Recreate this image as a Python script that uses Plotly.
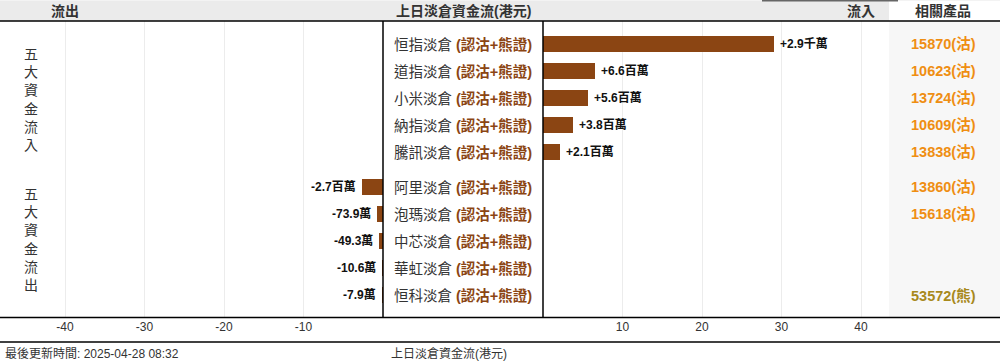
import plotly.graph_objects as go

W, H = 1000, 362

# ---------------- data ----------------
in_names = ["恒指淡倉", "道指淡倉", "小米淡倉", "納指淡倉", "騰訊淡倉"]
in_values = [29.0, 6.6, 5.6, 3.8, 2.1]            # 百萬港元
in_labels = ["+2.9千萬", "+6.6百萬", "+5.6百萬", "+3.8百萬", "+2.1百萬"]
in_products = ["15870(沽)", "10623(沽)", "13724(沽)", "10609(沽)", "13838(沽)"]

out_names = ["阿里淡倉", "泡瑪淡倉", "中芯淡倉", "華虹淡倉", "恒科淡倉"]
out_values = [-2.7, -0.739, -0.493, -0.106, -0.079]  # 百萬港元
out_labels = ["-2.7百萬", "-73.9萬", "-49.3萬", "-10.6萬", "-7.9萬"]
out_products = ["13860(沽)", "15618(沽)", "", "", "53572(熊)"]

left_ticks = [-40, -30, -20, -10]
right_ticks = [10, 20, 30, 40]
suffix = "(認沽+熊證)"
update_time = "最後更新時間: 2025-04-28 08:32"

# ---------------- styling ----------------
FONT = "Liberation Sans, Noto Sans CJK TC, sans-serif"
TXT = "#333333"
BAR = "#8B4513"
ORANGE = "#EF8E12"
OLIVE = "#A8891C"

def px(x):
    return x / W

def py(y):
    return 1 - y / H

GAP = 8 / 27
in_pos = [i for i in range(len(in_names))]
out_pos = [len(in_names) + GAP + i for i in range(len(out_names))]
PAD = 23 / 27

fig = go.Figure()
fig.add_trace(go.Bar(x=out_values, y=out_pos, orientation="h", xaxis="x", yaxis="y",
                     marker=dict(color=BAR, line=dict(width=0)), width=0.59,
                     hoverinfo="skip", showlegend=False))
fig.add_trace(go.Bar(x=in_values, y=in_pos, orientation="h", xaxis="x2", yaxis="y",
                     marker=dict(color=BAR, line=dict(width=0)), width=0.59,
                     hoverinfo="skip", showlegend=False))

ann = []
shapes = []

# header backgrounds
shapes.append(dict(type="rect", xref="paper", yref="paper", x0=0, x1=px(889), y0=py(21), y1=py(1),
                   fillcolor="#ebebeb", line=dict(width=0), layer="below"))
shapes.append(dict(type="rect", xref="paper", yref="paper", x0=0, x1=1, y0=py(1), y1=py(0),
                   fillcolor="#f3f3f3", line=dict(width=0), layer="below"))
shapes.append(dict(type="rect", xref="paper", yref="paper", x0=px(762), x1=px(898), y0=py(1.5), y1=py(0),
                   fillcolor="#666666", line=dict(width=0), layer="below"))
# product column background
shapes.append(dict(type="rect", xref="paper", yref="paper", x0=px(889), x1=1, y0=py(318), y1=py(21),
                   fillcolor="#f7f7f7", line=dict(width=0), layer="below"))
# horizontal black lines
for yy in (21, 317.5, 342):
    shapes.append(dict(type="line", xref="paper", yref="paper", x0=0, x1=1, y0=py(yy), y1=py(yy),
                       line=dict(color="#000000", width=1.5)))
# center panel borders
for xx in (383, 543):
    shapes.append(dict(type="line", xref="paper", yref="paper", x0=px(xx), x1=px(xx), y0=py(318), y1=py(21),
                       line=dict(color="#000000", width=1.5)))

# header texts
for text, xc in (("流出", 65), ("上日淡倉資金流(港元)", 463), ("流入", 861), ("相關產品", 943)):
    ann.append(dict(text=f"<b>{text}</b>", xref="paper", yref="paper", x=px(xc), y=py(11),
                    xanchor="center", yanchor="middle", showarrow=False,
                    font=dict(family=FONT, size=14, color=TXT)))

# vertical group labels
ann.append(dict(text="<br>".join("五大資金流入"), xref="paper", yref="paper", x=px(31), y=py(99),
                xanchor="center", yanchor="middle", showarrow=False,
                font=dict(family=FONT, size=14, color=TXT)))
ann.append(dict(text="<br>".join("五大資金流出"), xref="paper", yref="paper", x=px(31), y=py(239),
                xanchor="center", yanchor="middle", showarrow=False,
                font=dict(family=FONT, size=14, color=TXT)))

names = in_names + out_names
prods = in_products + out_products
poss = in_pos + out_pos
for name, prod, p in zip(names, prods, poss):
    ann.append(dict(text=f"{name} <b><span style='color:{BAR}'>{suffix}</span></b>",
                    xref="paper", yref="y", x=px(463), y=p, xanchor="center", yanchor="middle",
                    showarrow=False, font=dict(family=FONT, size=14.5, color=TXT)))
    if prod:
        col = OLIVE if "熊" in prod else ORANGE
        ann.append(dict(text=f"<b>{prod}</b>", xref="paper", yref="y", x=px(943), y=p,
                        xanchor="center", yanchor="middle", showarrow=False,
                        font=dict(family=FONT, size=14.5, color=col)))

for v, lab, p in zip(in_values, in_labels, in_pos):
    ann.append(dict(text=f"<b>{lab}</b>", xref="x2", yref="y", x=v, y=p, xanchor="left",
                    yanchor="middle", xshift=4, showarrow=False,
                    font=dict(family=FONT, size=12, color="#111111")))
for v, lab, p in zip(out_values, out_labels, out_pos):
    ann.append(dict(text=f"<b>{lab}</b>", xref="x", yref="y", x=v, y=p, xanchor="right",
                    yanchor="middle", xshift=-4, showarrow=False,
                    font=dict(family=FONT, size=12, color="#111111")))

# footer
ann.append(dict(text=update_time, xref="paper", yref="paper", x=px(3), y=py(353),
                xanchor="left", yanchor="middle", showarrow=False,
                font=dict(family=FONT, size=12, color=TXT)))
ann.append(dict(text="上日淡倉資金流(港元)", xref="paper", yref="paper", x=px(389), y=py(353),
                xanchor="left", yanchor="middle", showarrow=False,
                font=dict(family=FONT, size=12, color=TXT)))

scale = 7.95
fig.update_layout(
    width=W, height=H,
    margin=dict(l=0, r=0, t=0, b=0),
    paper_bgcolor="white", plot_bgcolor="rgba(0,0,0,0)",
    bargap=0,
    xaxis=dict(domain=[0, px(383)], range=[-383 / scale, 0], tickvals=left_ticks,
               ticktext=[str(t) for t in left_ticks], showgrid=True, gridcolor="#ececec",
               gridwidth=1, zeroline=False, showline=False, ticks="", anchor="y",
               tickfont=dict(family=FONT, size=12, color=TXT), fixedrange=True),
    xaxis2=dict(domain=[px(543), px(889)], range=[0, 346 / scale], tickvals=right_ticks,
                ticktext=[str(t) for t in right_ticks], showgrid=True, gridcolor="#ececec",
                gridwidth=1, zeroline=False, showline=False, ticks="", anchor="y",
                tickfont=dict(family=FONT, size=12, color=TXT), fixedrange=True),
    yaxis=dict(domain=[py(318), py(21)], range=[out_pos[-1] + PAD, -PAD],
               showticklabels=False, showgrid=False, zeroline=False, showline=False, fixedrange=True),
    shapes=shapes,
    annotations=ann,
    showlegend=False,
)

fig.write_html("out.html")
